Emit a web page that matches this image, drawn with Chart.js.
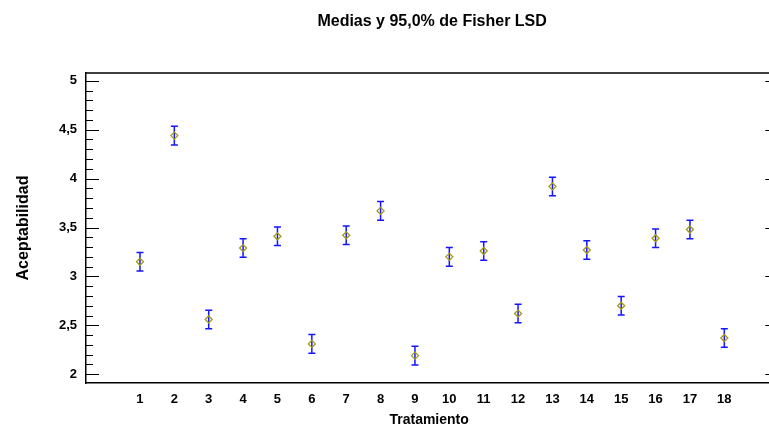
<!DOCTYPE html>
<html>
<head>
<meta charset="utf-8">
<title>Medias y 95,0% de Fisher LSD</title>
<script src="https://cdn.jsdelivr.net/npm/chart.js@4.4.1/dist/chart.umd.min.js"></script>
<style>
  body { margin: 0; background: #fff; }
  #grafico { display: block; }
</style>
</head>
<body>
<canvas id="grafico" width="769" height="427"></canvas>
<script>
// datos
var tratamientos = [1, 2, 3, 4, 5, 6, 7, 8, 9, 10, 11, 12, 13, 14, 15, 16, 17, 18];
var medias = [3.15, 4.44, 2.56, 3.29, 3.41, 2.31, 3.42, 3.67, 2.19, 3.20, 3.26, 2.62, 3.92, 3.27, 2.70, 3.39, 3.48, 2.37];
var mediaLsd = [0.095, 0.095, 0.095, 0.095, 0.095, 0.095, 0.095, 0.095, 0.095, 0.095, 0.095, 0.095, 0.095, 0.095, 0.095, 0.095, 0.095, 0.095];
var yTicks = [2, 2.5, 3, 3.5, 4, 4.5, 5];
var yTickLabels = ['2', '2,5', '3', '3,5', '4', '4,5', '5'];

var titulo = 'Medias y 95,0% de Fisher LSD';
var tituloX = 'Tratamiento';
var tituloY = 'Aceptabilidad';
var fuente = '"Liberation Sans", Arial, sans-serif';

// el marco original sigue un poco mas alla del borde derecho de la imagen
var xMin = -0.57, xMaxVisible = 19.3, xMaxMarco = 19.57;

var puntos = [];
for (var i = 0; i < tratamientos.length; i++) {
  puntos.push({ x: tratamientos[i], y: medias[i] });
}

// barras de error, marco y textos
var marco = {
  id: 'marco',
  beforeDatasetsDraw: function (chart) {
    var ctx = chart.ctx;
    var sx = chart.scales.x, sy = chart.scales.y;
    ctx.save();
    ctx.strokeStyle = '#1515ff';
    ctx.lineWidth = 1.5;
    for (var i = 0; i < tratamientos.length; i++) {
      var px = sx.getPixelForValue(tratamientos[i]);
      var arriba = sy.getPixelForValue(medias[i] + mediaLsd[i]);
      var abajo = sy.getPixelForValue(medias[i] - mediaLsd[i]);
      ctx.beginPath();
      ctx.moveTo(px, arriba); ctx.lineTo(px, abajo);
      ctx.moveTo(px - 3.5, arriba); ctx.lineTo(px + 3.5, arriba);
      ctx.moveTo(px - 3.5, abajo); ctx.lineTo(px + 3.5, abajo);
      ctx.stroke();
    }
    ctx.restore();
  },
  afterDraw: function (chart) {
    var ctx = chart.ctx;
    var a = chart.chartArea;
    var sx = chart.scales.x, sy = chart.scales.y;
    var derecha = sx.getPixelForValue(xMaxMarco);
    ctx.save();
    ctx.strokeStyle = '#000';
    ctx.lineWidth = 1.5;
    ctx.beginPath();
    ctx.moveTo(a.left, a.top); ctx.lineTo(derecha, a.top);
    ctx.lineTo(derecha, a.bottom);
    ctx.stroke();

    // marcas hacia adentro
    ctx.lineWidth = 1.2;
    ctx.beginPath();
    for (var v = 20; v <= 50; v++) {
      var py = Math.round(sy.getPixelForValue(v / 10)) + 0.5;
      var largo = (v % 5 == 0) ? 13 : 7;
      ctx.moveTo(a.left, py); ctx.lineTo(a.left + largo, py);
      ctx.moveTo(derecha, py); ctx.lineTo(derecha - largo, py);
    }
    ctx.stroke();

    ctx.fillStyle = '#000';
    ctx.textAlign = 'center';
    ctx.textBaseline = 'alphabetic';
    var centro = (a.left + derecha) / 2;
    ctx.font = 'bold 16px ' + fuente;
    ctx.fillText(titulo, centro, 26);
    ctx.font = 'bold 14px ' + fuente;
    ctx.fillText(tituloX, centro - 3, 424);

    ctx.translate(28, (a.top + a.bottom) / 2);
    ctx.rotate(-Math.PI / 2);
    ctx.font = 'bold 16px ' + fuente;
    ctx.fillText(tituloY, 0, 0);
    ctx.restore();
  }
};

new Chart(document.getElementById('grafico'), {
  type: 'scatter',
  data: {
    datasets: [{
      label: 'Medias',
      data: puntos,
      pointStyle: 'rectRot',
      pointRadius: 3.5,
      pointBorderWidth: 1.3,
      pointBorderColor: '#a39a12',
      pointBackgroundColor: 'rgba(255,255,255,0)'
    }]
  },
  options: {
    responsive: false,
    animation: false,
    devicePixelRatio: 1,
    layout: { autoPadding: false, padding: { top: 73, right: 0, bottom: 0, left: 0 } },
    plugins: {
      legend: { display: false },
      title: { display: false },
      tooltip: { enabled: false }
    },
    scales: {
      x: {
        type: 'linear',
        min: xMin,
        max: xMaxVisible,
        afterBuildTicks: function (scale) {
          scale.ticks = tratamientos.map(function (t) { return { value: t }; });
        },
        afterFit: function (scale) { scale.height = 44; },
        grid: { display: false, drawTicks: false },
        border: { display: true, color: '#000', width: 1.5 },
        ticks: {
          color: '#000',
          padding: 9,
          maxRotation: 0,
          autoSkip: false,
          font: { family: fuente, size: 13, weight: 'bold' },
          callback: function (v) { return String(v); }
        }
      },
      y: {
        type: 'linear',
        min: 1.91,
        max: 5.08,
        afterBuildTicks: function (scale) {
          scale.ticks = yTicks.map(function (t) { return { value: t }; });
        },
        afterFit: function (scale) { scale.width = 86; },
        grid: { display: false, drawTicks: false },
        border: { display: true, color: '#000', width: 1.5 },
        ticks: {
          color: '#000',
          padding: 9,
          autoSkip: false,
          font: { family: fuente, size: 13, weight: 'bold' },
          callback: function (v) {
            var k = yTicks.indexOf(v);
            return k >= 0 ? yTickLabels[k] : '';
          }
        }
      }
    }
  },
  plugins: [marco]
});
</script>
</body>
</html>
